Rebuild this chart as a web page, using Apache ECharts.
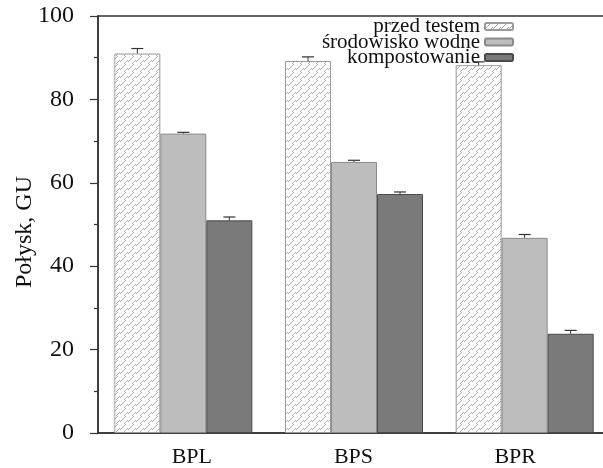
<!DOCTYPE html>
<html><head><meta charset="utf-8">
<script src="https://cdn.jsdelivr.net/npm/echarts@6/dist/echarts.min.js"></script>
<style>html,body{margin:0;padding:0;background:#fff;overflow:hidden;width:603px;height:468px}#c{width:620px;height:468px}</style>
</head><body><div id="c"></div>
<script>
var categories = ['BPL', 'BPS', 'BPR'];
var seriesNames = ['przed testem', 'środowisko wodne', 'kompostowanie'];
var przedTestem = [91, 89.2, 88.2];
var srodowiskoWodne = [71.8, 65, 46.8];
var kompostowanie = [51, 57.3, 23.8];
var errPrzed = [1.2, 1.0, 0.8];
var errWodne = [0.3, 0.4, 0.8];
var errKompost = [0.8, 0.5, 0.8];
var yTicks = [0, 20, 40, 60, 80, 100];

var FONT = 'Liberation Serif';
function hatch() {
  var c = document.createElement('canvas');
  c.width = 8; c.height = 8;
  var g = c.getContext('2d');
  g.fillStyle = '#ffffff'; g.fillRect(0, 0, 8, 8);
  g.strokeStyle = '#ababab'; g.lineWidth = 1;
  g.beginPath();
  for (var k = -8; k <= 16; k += 6) { g.moveTo(k, 8); g.lineTo(k + 8, 0); }
  g.stroke();
  return c;
}
var hatchPattern = { image: hatch(), repeat: 'repeat' };
var values = [przedTestem, srodowiskoWodne, kompostowanie];
var errs = [errPrzed, errWodne, errKompost];
var styles = [
  { color: hatchPattern, borderColor: '#9a9a9a', borderWidth: 1 },
  { color: '#bdbdbd', borderColor: '#8a8a8a', borderWidth: 1 },
  { color: '#7a7a7a', borderColor: '#4a4a4a', borderWidth: 1 }
];
var BW = 46;
var series = [];
values.forEach(function (v, i) {
  series.push({ name: seriesNames[i], type: 'bar', data: v, barWidth: BW, barGap: '0%', itemStyle: styles[i], z: 2 });
});
values.forEach(function (v, i) {
  var data = v.map(function (val, j) { return [j, val, val + errs[i][j]]; });
  series.push({
    type: 'custom', z: 5, silent: true, data: data,
    renderItem: function (params, api) {
      var p0 = api.coord([api.value(0), api.value(1)]);
      var p1 = api.coord([api.value(0), api.value(2)]);
      var x = p0[0] + (i - 1) * BW;
      return { type: 'group', children: [
        { type: 'line', shape: { x1: x, y1: p0[1], x2: x, y2: p1[1] }, style: { stroke: '#333', lineWidth: 1 } },
        { type: 'line', shape: { x1: x - 6, y1: p1[1], x2: x + 6, y2: p1[1] }, style: { stroke: '#333', lineWidth: 1.2 } }
      ] };
    }
  });
});
var chart = echarts.init(document.getElementById('c'));
chart.setOption({
  animation: false,
  backgroundColor: '#fff',
  grid: [
    { left: 98, top: 16, width: 512, height: 417, show: true, borderColor: '#333', borderWidth: 1.5, backgroundColor: 'transparent' },
    { left: 111, top: 16, width: 485, height: 417, show: false }
  ],
  legend: {
    data: seriesNames, orient: 'vertical', align: 'right', right: 101, top: 11,
    itemWidth: 28, itemHeight: 7, itemGap: -5.5,
    textStyle: { fontFamily: FONT, fontSize: 21, color: '#111' }
  },
  xAxis: [{
    type: 'category', data: categories, gridIndex: 0,
    axisLine: { lineStyle: { color: '#333', width: 1.5 } },
    axisTick: { show: false },
    axisLabel: { show: false }
  }, {
    type: 'category', data: categories, gridIndex: 1,
    axisLine: { show: false }, axisTick: { show: false },
    axisLabel: { fontFamily: FONT, fontSize: 22, color: '#111', margin: 16 }
  }],
  yAxis: [{
    type: 'value', min: yTicks[0], max: yTicks[yTicks.length - 1], interval: 20, gridIndex: 0,
    axisLine: { show: true, lineStyle: { color: '#333', width: 1.5 } },
    axisTick: { show: true, length: 8, lineStyle: { color: '#333', width: 1.2 } },
    minorTick: { show: true, splitNumber: 2, length: 4, lineStyle: { color: '#333', width: 1.2 } },
    splitLine: { show: false },
    axisLabel: { fontFamily: FONT, fontSize: 24, color: '#111', margin: 24 }
  }, {
    type: 'value', min: 0, max: 100, gridIndex: 1, show: false
  }],
  graphic: [{
    type: 'text', x: 25, y: 232, rotation: Math.PI / 2,
    style: { text: 'Połysk, GU', fontFamily: FONT, fontSize: 24, fill: '#111', align: 'center', verticalAlign: 'middle' }
  }],
  series: series
});
</script></body></html>
